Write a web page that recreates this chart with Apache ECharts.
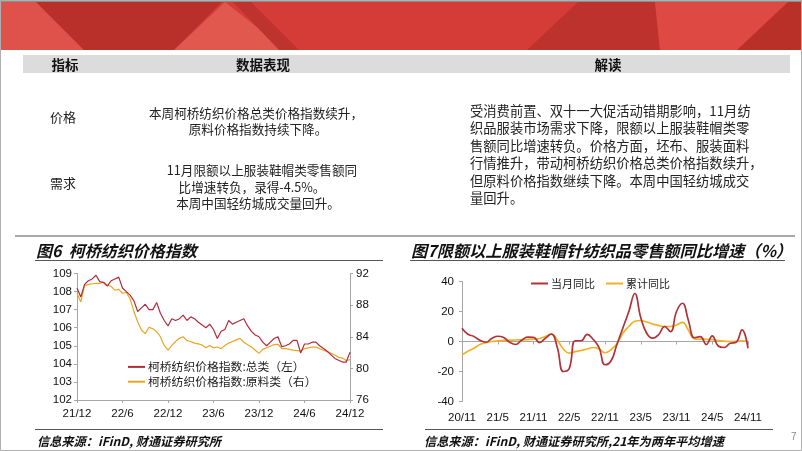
<!DOCTYPE html>
<html><head><meta charset="utf-8">
<script src="https://cdn.jsdelivr.net/npm/echarts@6/dist/echarts.min.js"></script>
<style>html,body{margin:0;padding:0;background:#fff}#c{width:802px;height:451px}</style>
</head><body><div id="c"></div>
<script>
// ---------- Figure 6: Keqiao textile price index (half-monthly, 21/12 -> 24/12) ----------
const priceTickLabels = ['21/12','22/6','22/12','23/6','23/12','24/6','24/12'];
const totalIndex = [108.2,107.7,108.4,108.6,108.7,108.9,108.55,108.5,108.3,108.6,108.7,108.8,108.2,108.0,107.8,107.5,
  106.9,107.1,107.3,107.0,107.0,107.4,106.8,106.4,106.1,106.5,106.4,106.5,106.7,106.4,106.6,106.5,
  106.3,106.15,106.0,106.2,105.9,105.4,105.8,105.9,106.4,106.2,106.3,106.4,106.5,106.1,105.8,105.6,
  105.5,105.2,105.0,105.2,105.4,105.5,104.95,105.0,105.1,105.3,105.3,104.6,105.1,105.1,105.2,105.2,
  105.0,104.85,104.7,104.5,104.3,104.2,104.1,104.1,104.65];
const rawIndex = [89.5,88.4,90.5,90.6,90.7,90.75,90.75,90.9,90.55,90.35,89.9,90.0,89.5,89.6,88.8,87.2,
  85.9,84.85,84.4,85.2,85.0,84.65,84.0,82.9,82.3,82.9,83.4,83.8,84.0,83.5,83.4,83.2,
  83.1,82.95,82.6,82.9,82.6,82.7,82.5,82.9,83.2,83.4,83.6,83.8,83.3,83.0,82.7,82.3,
  81.9,82.4,82.6,82.8,83.0,83.05,82.5,82.5,82.4,82.3,82.25,82.2,82.5,82.6,82.7,82.7,
  82.5,82.3,82.1,81.9,81.7,81.4,81.3,81.0,81.1];
// ---------- Figure 7: apparel retail sales YoY (monthly, 20/11 -> 24/11) ----------
const retailTickLabels = ['20/11','21/5','21/11','22/5','22/11','23/5','23/11','24/5','24/11'];
const monthYoY = [8.9,4.8,3.4,0.8,-0.5,2.0,3.5,2.6,-0.5,-2.0,0.8,2.9,2.8,-0.7,2.2,5.0,
  -4.0,-20.0,-18.0,0.5,0.5,4.8,1.5,-4.0,-15.5,-13.0,-2.0,9.0,20.0,32.0,16.0,5.5,
  2.2,4.5,10.0,6.5,20.0,25.5,14.0,2.5,3.3,-2.0,3.8,-3.0,-4.0,-1.2,-0.5,7.8,-4.5];
const cumYoY = [-8.9,-6.5,-4.5,-2.0,-0.8,0.0,0.4,0.7,0.9,1.0,1.1,1.3,1.5,2.0,3.3,5.0,
  1.0,-5.0,-7.8,-6.8,-6.0,-5.0,-4.0,-5.0,-7.5,-5.5,-1.5,5.5,10.0,13.5,14.0,13.0,
  11.6,10.7,10.0,10.0,11.0,12.7,7.5,1.8,1.6,1.5,1.2,0.6,0.2,0.0,0.1,0.5,-0.2];

// categories
const priceCats = [];
for (let i = 0; i < totalIndex.length; i++) {
  const mo = 12 + Math.floor(i / 2);
  const y = 21 + Math.floor((mo - 1) / 12), m = ((mo - 1) % 12) + 1;
  priceCats.push(y + '/' + m + (i % 2 ? 'b' : ''));
}
const retailCats = [];
for (let k = 0; k < monthYoY.length; k++) {
  const mo = 11 + k;
  const y = 20 + Math.floor((mo - 1) / 12), m = ((mo - 1) % 12) + 1;
  retailCats.push(y + '/' + m);
}

const CJK = "'Noto Sans CJK SC', sans-serif";
const LAT = "'Liberation Sans', Arial, sans-serif";
const RED1 = '#B22C3A', ORG1 = '#E9A623';
const RED2 = '#B3323A', ORG2 = '#F0B224';
const AX = '#A6A6A6';

function txt(text, x, y, o) {
  o = o || {};
  return { type: 'text', silent: true, z: 10, style: Object.assign({
    text: text, x: x, y: y, fill: '#222', fontSize: 12.6, fontFamily: CJK,
    textAlign: 'left', textVerticalAlign: 'middle' }, o) };
}
function poly(pts, fill) { return { type: 'polygon', silent: true, z: 1, shape: { points: pts }, style: { fill: fill } }; }
function line(x1, y1, x2, y2, stroke, w) {
  return { type: 'line', silent: true, z: 2, shape: { x1: x1, y1: y1, x2: x2, y2: y2 }, style: { stroke: stroke, lineWidth: w || 1 } };
}

const graphics = [
  { type: 'rect', silent: true, z: 0, shape: { x: 0, y: 2, width: 802, height: 48 }, style: { fill: '#D53C37' } },
  poly([[0,2],[36,2],[84,50],[0,50]], '#DF524B'),
  poly([[36,2],[222,2],[174,50],[84,50]], '#B83029'),
  poly([[225,2],[174,50],[286,50]], '#E1584F'),
  poly([[233,2],[251,2],[299,50],[279,50]], '#BF332E'),
  poly([[578,2],[655,2],[660,50],[527,50]], '#BE322E'),
  poly([[655,2],[802,2],[802,50],[660,50]], '#DF4943'),
  poly([[788,2],[802,2],[802,50],[737,50]], '#B93029'),
  { type: 'rect', silent: true, z: 2, shape: { x: 0, y: 0, width: 802, height: 2 }, style: { fill: '#8C8C8C' } },
  { type: 'rect', silent: true, z: 2, shape: { x: 0.5, y: 0.5, width: 801, height: 450 }, style: { fill: 'none', stroke: '#B0B0B0', lineWidth: 1 } },
  // table header
  { type: 'rect', silent: true, z: 1, shape: { x: 23, y: 55, width: 767, height: 18 }, style: { fill: '#DCDCDC' } },
  txt('指标', 65, 64.5, { textAlign: 'center', fontWeight: 'bold', fontSize: 13.5, fill: '#111' }),
  txt('数据表现', 263, 64.5, { textAlign: 'center', fontWeight: 'bold', fontSize: 13.5, fill: '#111' }),
  txt('解读', 608, 64.5, { textAlign: 'center', fontWeight: 'bold', fontSize: 13.5, fill: '#111' }),
  txt('价格', 63, 117, { textAlign: 'center', fontSize: 13 }),
  txt('需求', 63, 183, { textAlign: 'center', fontSize: 13 }),
  txt('本周柯桥纺织价格总类价格指数续升，', 256, 113, { textAlign: 'center' }),
  txt('原料价格指数持续下降。', 258, 129.5, { textAlign: 'center' }),
  txt('11月限额以上服装鞋帽类零售额同', 262, 170, { textAlign: 'center' }),
  txt('比增速转负，录得-4.5%。', 252, 187, { textAlign: 'center' }),
  txt('本周中国轻纺城成交量回升。', 258, 203.5, { textAlign: 'center' }),
  txt('受消费前置、双十一大促活动错期影响，11月纺', 470, 111, { fontSize: 13.3 }),
  txt('织品服装市场需求下降，限额以上服装鞋帽类零', 470, 128.4, { fontSize: 13.3 }),
  txt('售额同比增速转负。价格方面，坯布、服装面料', 470, 145.8, { fontSize: 13.3 }),
  txt('行情推升，带动柯桥纺织价格总类价格指数续升，', 470, 163.2, { fontSize: 13.3 }),
  txt('但原料价格指数继续下降。本周中国轻纺城成交', 470, 180.6, { fontSize: 13.3 }),
  txt('量回升。', 470, 198, { fontSize: 13.3 }),
  line(15, 236, 795, 236, '#8C8C8C', 1.5),
  // chart titles
  txt('图6  柯桥纺织价格指数', 36, 251, { fontSize: 16, fontWeight: 'bold', fontStyle: 'italic', fill: '#111' }),
  line(35, 260.5, 383, 260.5, '#555', 1),
  txt('图7限额以上服装鞋帽针纺织品零售额同比增速（%）', 411, 251, { fontSize: 16.2, fontWeight: 'bold', fontStyle: 'italic', fill: '#111' }),
  line(410, 260.5, 785, 260.5, '#555', 1),
  // sources
  line(35, 429.5, 383, 429.5, '#555', 1.2),
  line(425, 429.5, 773, 429.5, '#555', 1.2),
  txt('信息来源：iFinD, 财通证券研究所', 37, 441, { fontSize: 12.2, fontWeight: 'bold', fontStyle: 'italic', fill: '#111' }),
  txt('信息来源：iFinD, 财通证券研究所,21年为两年平均增速', 424, 441, { fontSize: 12.2, fontWeight: 'bold', fontStyle: 'italic', fill: '#111' }),
  txt('7', 791, 437, { fontSize: 10, fill: '#888', fontFamily: LAT })
];

const axisLab = { color: '#111', fontSize: 11.5, fontFamily: LAT };
const chart = echarts.init(document.getElementById('c'), null, { renderer: 'canvas' });
chart.setOption({
  animation: false,
  backgroundColor: '#fff',
  graphic: graphics,
  grid: [
    { left: 77, top: 273.5, width: 273, height: 126.5 },
    { left: 462, top: 281.5, width: 286, height: 120 }
  ],
  legend: [
    { left: 123, top: 356, orient: 'vertical', itemWidth: 17, itemHeight: 2, itemGap: 3, icon: 'rect',
      data: ['柯桥纺织价格指数:总类（左）', '柯桥纺织价格指数:原料类（右）'],
      textStyle: { fontSize: 11.8, fontFamily: CJK, color: '#222', padding: [0, 0, 0, -2] } },
    { left: 526, top: 273, orient: 'horizontal', itemWidth: 17, itemHeight: 2, itemGap: 11, icon: 'rect',
      data: ['当月同比', '累计同比'],
      textStyle: { fontSize: 11, fontFamily: CJK, color: '#222', padding: [0, 0, 0, -2] } }
  ],
  xAxis: [
    { gridIndex: 0, type: 'category', data: priceCats, boundaryGap: false,
      axisLine: { lineStyle: { color: AX } },
      axisTick: { interval: 11, length: 3, lineStyle: { color: AX } },
      axisLabel: Object.assign({ interval: 11, margin: 8, formatter: function (v, i) { return priceTickLabels[i / 12] || ''; } }, axisLab),
      splitLine: { show: false } },
    { gridIndex: 1, type: 'category', data: retailCats, boundaryGap: false,
      axisLine: { show: false, onZero: false }, axisTick: { show: false },
      axisLabel: Object.assign({ interval: 5, margin: 10, formatter: function (v, i) { return retailTickLabels[i / 6] || ''; } }, axisLab),
      splitLine: { show: false } },
    { gridIndex: 1, type: 'category', data: retailCats, boundaryGap: false, position: 'bottom',
      axisLine: { show: true, onZero: true, lineStyle: { color: AX, width: 1.2 } },
      axisTick: { show: true, interval: 5, length: 3, lineStyle: { color: AX } },
      axisLabel: { show: false }, splitLine: { show: false } }
  ],
  yAxis: [
    { gridIndex: 0, type: 'value', min: 102, max: 109, interval: 1, position: 'left',
      axisLine: { show: true, lineStyle: { color: AX } }, axisTick: { show: true, length: 3, lineStyle: { color: AX } },
      axisLabel: Object.assign({ margin: 5 }, axisLab), splitLine: { show: false } },
    { gridIndex: 0, type: 'value', min: 76, max: 92, interval: 4, position: 'right',
      axisLine: { show: true, lineStyle: { color: AX } }, axisTick: { show: true, length: 3, lineStyle: { color: AX } },
      axisLabel: Object.assign({ margin: 6 }, axisLab), splitLine: { show: false } },
    { gridIndex: 1, type: 'value', min: -40, max: 40, interval: 20, position: 'left',
      axisLine: { show: true, lineStyle: { color: AX } }, axisTick: { show: true, length: 3, lineStyle: { color: AX } },
      axisLabel: Object.assign({ margin: 8 }, axisLab), splitLine: { show: false } }
  ],
  series: [
    { name: '柯桥纺织价格指数:总类（左）', type: 'line', xAxisIndex: 0, yAxisIndex: 0, data: totalIndex,
      symbol: 'none', lineStyle: { color: RED1, width: 1.2 }, itemStyle: { color: RED1 }, z: 3 },
    { name: '柯桥纺织价格指数:原料类（右）', type: 'line', xAxisIndex: 0, yAxisIndex: 1, data: rawIndex,
      symbol: 'none', lineStyle: { color: ORG1, width: 1.2 }, itemStyle: { color: ORG1 }, z: 2 },
    { name: '当月同比', type: 'line', xAxisIndex: 1, yAxisIndex: 2, data: monthYoY, smooth: 0.45,
      symbol: 'none', lineStyle: { color: RED2, width: 1.7 }, itemStyle: { color: RED2 }, z: 3 },
    { name: '累计同比', type: 'line', xAxisIndex: 1, yAxisIndex: 2, data: cumYoY, smooth: 0.45,
      symbol: 'none', lineStyle: { color: ORG2, width: 1.7 }, itemStyle: { color: ORG2 }, z: 2 }
  ]
});
</script></body></html>
